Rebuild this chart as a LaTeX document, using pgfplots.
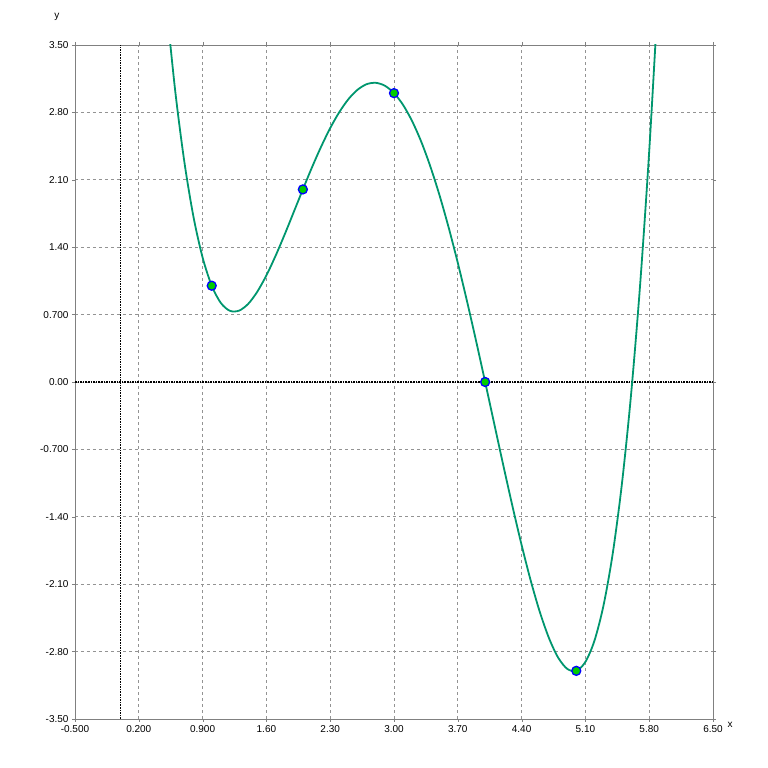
\documentclass[border=0pt]{standalone}
\usepackage{fontspec}
\setmainfont{Liberation Sans}
\usepackage{pgfplots}
\pgfplotsset{compat=1.18}
\definecolor{curve}{RGB}{0,150,110}
\begin{document}
\begin{tikzpicture}
\begin{axis}[
  scale only axis, width=638pt, height=674pt,
  xmin=-0.5, xmax=6.5, ymin=-3.5, ymax=3.5,
  xtick={-0.5,0.2,0.9,1.6,2.3,3.0,3.7,4.4,5.1,5.8,6.5},
  xticklabels={-0.500,0.200,0.900,1.60,2.30,3.00,3.70,4.40,5.10,5.80,6.50},
  ytick={-3.5,-2.8,-2.1,-1.4,-0.7,0,0.7,1.4,2.1,2.8,3.5},
  yticklabels={-3.50,-2.80,-2.10,-1.40,-0.700,0.00,0.700,1.40,2.10,2.80,3.50},
  tick label style={font=\fontsize{10}{11}\selectfont},
  grid=major, major grid style={gray!85, dashed, line width=0.8pt},
  axis line style={gray, line width=0.8pt},
  tick style={gray}, tick align=outside, major tick length=3pt,
  clip=true,
]
\addplot[black, densely dotted, line width=1.6pt] coordinates {(0,-3.5) (0,3.5)};
\addplot[black, densely dotted, line width=1.6pt] coordinates {(-0.5,0) (6.5,0)};
\addplot[curve, line width=1.8pt, smooth] coordinates {
(0.5,3.9375)(0.6,3.019)(0.7,2.285)(0.8,1.715)(0.9,1.293)(1.0,1)(1.1,0.821)(1.2,0.739)(1.3,0.741)(1.4,0.811)(1.5,0.9375)(1.6,1.107)(1.7,1.309)(1.8,1.531)(1.9,1.765)(2.0,2)(2.1,2.229)(2.2,2.443)(2.3,2.637)(2.4,2.803)(2.5,2.9375)(2.6,3.035)(2.7,3.093)(2.8,3.107)(2.9,3.077)(3.0,3)(3.1,2.877)(3.2,2.707)(3.3,2.493)(3.4,2.235)(3.5,1.9375)(3.6,1.603)(3.7,1.237)(3.8,0.843)(3.9,0.429)(4.0,0)(4.1,-0.435)(4.2,-0.869)(4.3,-1.291)(4.4,-1.693)(4.5,-2.0625)(4.6,-2.389)(4.7,-2.659)(4.8,-2.861)(4.9,-2.979)(5.0,-3)(5.1,-2.907)(5.2,-2.685)(5.3,-2.315)(5.4,-1.781)(5.5,-1.0625)(5.6,-0.141)(5.7,1.005)(5.8,2.395)(5.9,4.053)};
\addplot[only marks, mark=*, mark size=4.5pt, mark options={draw=blue, fill=green!80!black, line width=1.3pt}] coordinates {(1,1)(2,2)(3,3)(4,0)(5,-3)};
\end{axis}
\node[font=\fontsize{10}{11}\selectfont] at ([xshift=17pt,yshift=-6pt]current axis.south east) {x};
\node[font=\fontsize{10}{11}\selectfont] at ([xshift=-18pt,yshift=28pt]current axis.north west) {y};
\path ([xshift=-75pt,yshift=-49pt]current axis.south west) rectangle ([xshift=55pt,yshift=45pt]current axis.north east);
\end{tikzpicture}
\end{document}
